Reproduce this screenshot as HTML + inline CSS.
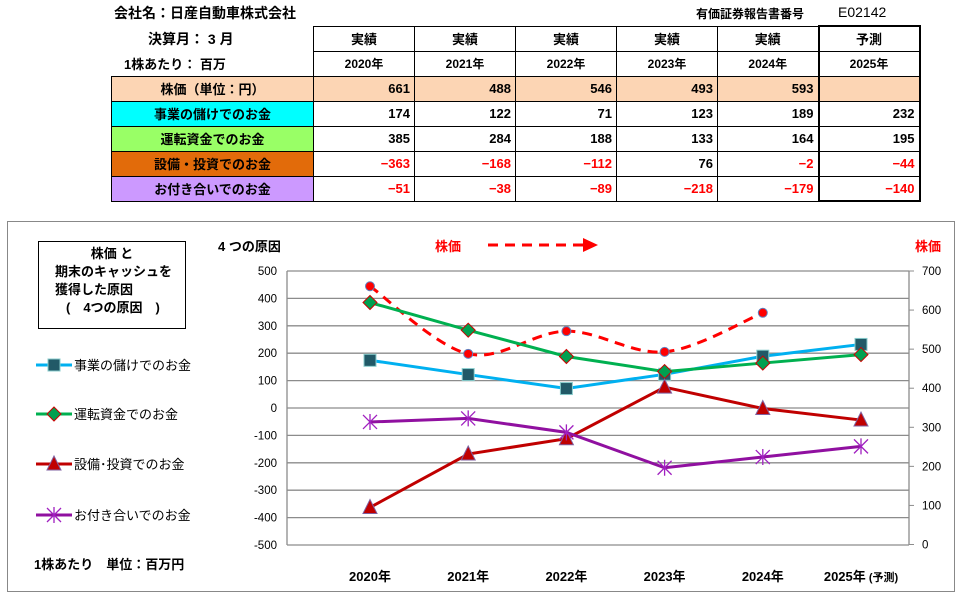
<!DOCTYPE html>
<html><head><meta charset="utf-8">
<style>
body{margin:0;width:964px;height:598px;background:#fff;font-family:"Liberation Sans","Noto Sans CJK JP",sans-serif;position:relative;overflow:hidden}
.a{position:absolute;white-space:nowrap}
table{position:absolute;left:111px;top:25px;border-collapse:collapse;font-size:13px;font-weight:bold}
td{border:1px solid #000;height:24px;padding:0 4px;text-align:right;box-sizing:border-box}
td.l{text-align:center;width:202px}
td.d{width:101px}
.r{color:#f00}
.h td{text-align:center}
</style></head><body>
<div class="a" style="left:114px;top:3px;font-size:14px;font-weight:bold">会社名：日産自動車株式会社</div>
<div class="a" style="left:696px;top:5px;font-size:12px;font-weight:bold">有価証券報告書番号</div>
<div class="a" style="left:838px;top:4px;font-size:14px">E02142</div>
<div class="a" style="left:148px;top:29px;font-size:14px;font-weight:bold">決算月： 3 月</div>
<div class="a" style="left:124px;top:54px;font-size:13px;font-weight:bold">1株あたり： 百万</div>
<table>
<tr class="h" style="height:25px"><td style="border:none;border-right:1px solid #000" class="l"></td><td class="d">実績</td><td class="d">実績</td><td class="d">実績</td><td class="d">実績</td><td class="d">実績</td><td class="d" style="border:2px solid #000;border-bottom:1px solid #000">予測</td></tr>
<tr class="h" style="font-size:12px;height:25px"><td style="border:none;border-right:1px solid #000;border-bottom:1px solid #000" class="l"></td><td>2020年</td><td>2021年</td><td>2022年</td><td>2023年</td><td>2024年</td><td style="border-left:2px solid #000;border-right:2px solid #000">2025年</td></tr>
<tr style="background:#fcd5b4;height:25px"><td class="l">株価（単位：円）</td><td>661</td><td>488</td><td>546</td><td>493</td><td>593</td><td style="border-left:2px solid #000;border-right:2px solid #000"></td></tr>
<tr style="height:25px"><td class="l" style="background:#00ffff">事業の儲けでのお金</td><td>174</td><td>122</td><td>71</td><td>123</td><td>189</td><td style="border-left:2px solid #000;border-right:2px solid #000">232</td></tr>
<tr style="height:25px"><td class="l" style="background:#99ff66">運転資金でのお金</td><td>385</td><td>284</td><td>188</td><td>133</td><td>164</td><td style="border-left:2px solid #000;border-right:2px solid #000">195</td></tr>
<tr style="height:25px"><td class="l" style="background:#e26b0a">設備・投資でのお金</td><td class="r">−363</td><td class="r">−168</td><td class="r">−112</td><td>76</td><td class="r">−2</td><td class="r" style="border-left:2px solid #000;border-right:2px solid #000">−44</td></tr>
<tr style="height:25px"><td class="l" style="background:#cc99ff">お付き合いでのお金</td><td class="r">−51</td><td class="r">−38</td><td class="r">−89</td><td class="r">−218</td><td class="r">−179</td><td class="r" style="border:2px solid #000;border-top:1px solid #000">−140</td></tr>
</table>
<svg class="a" style="left:0;top:0" width="964" height="598">
<rect x="7.5" y="221.5" width="947" height="370" fill="none" stroke="#888"/>
<g id="grid"></g><g id="series"></g>
</svg>
<div class="a" style="left:38px;top:241px;width:148px;height:88px;border:1px solid #000;font-size:13px;font-weight:bold;line-height:18px;padding-top:3px;box-sizing:border-box"><div style="text-align:center">株価 と</div><div style="padding-left:16px">期末のキャッシュを</div><div style="padding-left:16px">獲得した原因</div><div style="padding-left:27px">(　4つの原因　)</div></div>
<div class="a" style="left:218px;top:236px;font-size:13px;font-weight:bold">4 つの原因</div>
<div class="a" style="left:435px;top:236px;font-size:13px;font-weight:bold;color:#f00">株価</div>
<div class="a" style="left:915px;top:236px;font-size:13px;font-weight:bold;color:#f00">株価</div>
<div class="a" style="left:34px;top:554px;font-size:13px;font-weight:bold">1株あたり　単位：百万円</div>
<script>
const years=["2020年","2021年","2022年","2023年","2024年","2025年"];
const leftTicks=[500,400,300,200,100,0,-100,-200,-300,-400,-500];
const rightTicks=[700,600,500,400,300,200,100,0];
const business=[174,122,71,123,189,232];
const working=[385,284,188,133,164,195];
const invest=[-363,-168,-112,76,-2,-44];
const relations=[-51,-38,-89,-218,-179,-140];
const price=[661,488,546,493,593];
const NS="http://www.w3.org/2000/svg";
const X=i=>370+i*98.2, Y=v=>408-v*0.274, YR=v=>544.5-v*273.5/700;
const grid=document.getElementById('grid'),ser=document.getElementById('series');
function mk(tag,at,p){const e=document.createElementNS(NS,tag);for(const k in at)e.setAttribute(k,at[k]);p.appendChild(e);return e;}
leftTicks.forEach(t=>{const g=mk('line',{x1:287,x2:909,y1:Y(t),y2:Y(t),stroke:'#8c8c8c','stroke-width':1.3},grid);

const tx=mk('text',{x:277,y:Y(t)+4,'text-anchor':'end','font-size':11.5,fill:'#000'},grid);tx.textContent=t;
});
rightTicks.forEach(t=>{const tx=mk('text',{x:922,y:YR(t)+4,'font-size':11.5,fill:'#000'},grid);tx.textContent=t;

mk('line',{x1:909,x2:914,y1:YR(t),y2:YR(t),stroke:'#8c8c8c'},grid);});
mk('line',{x1:287,x2:287,y1:Y(500),y2:Y(-500),stroke:'#8c8c8c','stroke-width':1.3},grid);
mk('line',{x1:909,x2:909,y1:Y(500),y2:Y(-500),stroke:'#8c8c8c','stroke-width':1.3},grid);
years.forEach((y,i)=>{const tx=mk('text',{x:X(i),y:581,'text-anchor':'middle','font-size':13,'font-weight':'bold'},grid);tx.textContent=y;

if(i==5){const s=mk('tspan',{'font-size':11},tx);s.textContent=' (予測)';}});
function marker(type,x,y,col,p){
 if(type=='sq')mk('rect',{x:x-6,y:y-6,width:12,height:12,fill:'#215967',stroke:'#8cc',"stroke-width":1},p);
 if(type=='di')mk('path',{d:`M${x} ${y-7}L${x+7} ${y}L${x} ${y+7}L${x-7} ${y}Z`,fill:'#00a050',stroke:'#c00','stroke-width':1},p);
 if(type=='tr')mk('path',{d:`M${x} ${y-8}L${x+7} ${y+6}L${x-7} ${y+6}Z`,fill:'#c00000',stroke:'#7f60a0','stroke-width':1},p);
 if(type=='st'){const s=7;mk('path',{d:`M${x-s} ${y-s}L${x+s} ${y+s}M${x-s} ${y+s}L${x+s} ${y-s}M${x} ${y-s-1}L${x} ${y+s+1}`,stroke:'#a020c0','stroke-width':1.3},p);}
 if(type=='ci')mk('circle',{cx:x,cy:y,r:4.5,fill:'#f00',stroke:'#6080c0','stroke-width':1},p);
}
function smoothPath(pts){
 let d='M'+pts[0][0]+' '+pts[0][1];
 for(let i=0;i<pts.length-1;i++){
  const p0=pts[Math.max(0,i-1)],p1=pts[i],p2=pts[i+1],p3=pts[Math.min(pts.length-1,i+2)],t=1/6;
  d+=`C${p1[0]+(p2[0]-p0[0])*t} ${p1[1]+(p2[1]-p0[1])*t} ${p2[0]-(p3[0]-p1[0])*t} ${p2[1]-(p3[1]-p1[1])*t} ${p2[0]} ${p2[1]}`;
 }
 return d;
}
function series(name,data,col,type,yf,dash){
 const g=mk('g',{},ser);
 const pts=data.map((v,i)=>[X(i),yf(v)]);
 const d=dash?smoothPath(pts):pts.map((p,i)=>(i?'L':'M')+p[0]+' '+p[1]).join('');
 const at={d:d,fill:'none',stroke:col,'stroke-width':3};if(dash)at['stroke-dasharray']=dash;mk('path',at,g);
 data.forEach((v,i)=>marker(type,X(i),yf(v),col,g));
}
series('price-series',price,'#f00','ci',YR,'10 7');
series('business-series',business,'#00b0f0','sq',Y);
series('working-series',working,'#00b050','di',Y);
series('invest-series',invest,'#c00000','tr',Y);
series('relations-series',relations,'#9010a0','st',Y);
const ag=mk('g',{},ser);
mk('line',{x1:488,x2:585,y1:245,y2:245,stroke:'#f00','stroke-width':3,'stroke-dasharray':'10 7'},ag);
mk('path',{d:'M583 238L598 245L583 252Z',fill:'#f00'},ag);
const leg=[['business',365,'#00b0f0','sq','事業の儲けでのお金'],['working',414,'#00b050','di','運転資金でのお金'],['invest',464,'#c00000','tr','設備･投資でのお金'],['relations',515,'#9010a0','st','お付き合いでのお金']];
leg.forEach(l=>{const g=mk('g',{},ser);
mk('line',{x1:36,x2:72,y1:l[1],y2:l[1],stroke:l[2],'stroke-width':3},g);marker(l[3],54,l[1],l[2],g);
const t=mk('text',{x:74,y:l[1]+5,'font-size':13},g);t.textContent=l[4];});
</script>
</body></html>
